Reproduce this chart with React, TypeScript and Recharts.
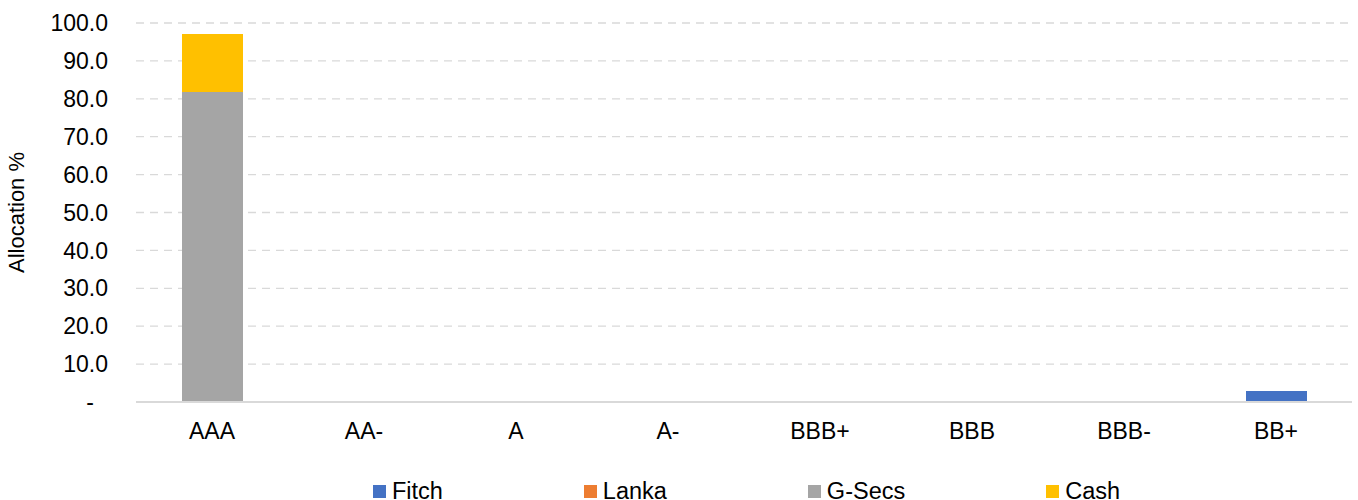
import React from "react";
import { BarChart, Bar, XAxis, YAxis, CartesianGrid, Legend } from "recharts";

const categories = ["AAA", "AA-", "A", "A-", "BBB+", "BBB", "BBB-", "BB+"];
const fitch = [0, 0, 0, 0, 0, 0, 0, 2.9];
const lanka = [0, 0, 0, 0, 0, 0, 0, 0];
const gSecs = [81.8, 0, 0, 0, 0, 0, 0, 0];
const cash = [15.3, 0, 0, 0, 0, 0, 0, 0];
const yTicks = [0, 10, 20, 30, 40, 50, 60, 70, 80, 90, 100];

const series = [
  { key: "fitch", name: "Fitch", color: "#4472C4" },
  { key: "lanka", name: "Lanka", color: "#ED7D31" },
  { key: "gSecs", name: "G-Secs", color: "#A5A5A5" },
  { key: "cash", name: "Cash", color: "#FFC000" },
];

const data = categories.map((c, i) => ({
  name: c,
  fitch: fitch[i],
  lanka: lanka[i],
  gSecs: gSecs[i],
  cash: cash[i],
}));

const FONT = "Liberation Sans, Arial, sans-serif";

function YTick(props: any) {
  const { x, y, payload } = props;
  const zero = payload.value === 0;
  return (
    <text
      x={zero ? x - 14 : x}
      y={y}
      dy="0.355em"
      textAnchor="end"
      fontSize={23}
      fontFamily={FONT}
      fill="#000"
    >
      {zero ? "-" : payload.value.toFixed(1)}
    </text>
  );
}

// legend kept in series order (recharts sorts the payload by name otherwise)
function LegendRow() {
  return (
    <div
      style={{
        display: "flex",
        justifyContent: "center",
        gap: 141,
        fontFamily: FONT,
        fontSize: 23.5,
        lineHeight: "23px",
        color: "#000",
        paddingLeft: 141,
      }}
    >
      {series.map((s) => (
        <div key={s.key} style={{ display: "flex", alignItems: "center" }}>
          <span
            style={{
              display: "inline-block",
              width: 13,
              height: 13,
              background: s.color,
              marginRight: 6,
            }}
          />
          <span>{s.name}</span>
        </div>
      ))}
    </div>
  );
}

export default function App() {
  return (
    <div style={{ position: "absolute", left: 0, top: 0, width: 1358, height: 500, background: "#fff", overflow: "hidden" }}>
      <BarChart
        width={1358}
        height={500}
        data={data}
        margin={{ top: 23, right: 6, left: 0, bottom: 0 }}
        barSize={61}
      >
        <CartesianGrid
          vertical={false}
          stroke="#d9d9d9"
          strokeDasharray="8 6"
          strokeWidth={1.3}
        />
        <XAxis
          dataKey="name"
          axisLine={{ stroke: "#d9d9d9", strokeWidth: 2 }}
          tickLine={false}
          tickSize={0}
          tickMargin={21}
          height={78}
          tick={{ fontSize: 23, fontFamily: FONT, fill: "#000" }}
          interval={0}
        />
        <YAxis
          width={136}
          domain={[0, 100]}
          ticks={yTicks}
          axisLine={false}
          tickLine={false}
          tickSize={0}
          tickMargin={28}
          tick={<YTick />}
          label={{
            value: "Allocation %",
            angle: -90,
            position: "insideLeft",
            offset: 16,
            style: { fontSize: 22, fontFamily: FONT, fill: "#000", textAnchor: "middle" },
          }}
        />
        <Legend verticalAlign="bottom" height={20} content={<LegendRow />} />
        {series.map((s) => (
          <Bar
            key={s.key}
            dataKey={s.key}
            name={s.name}
            stackId="a"
            fill={s.color}
            isAnimationActive={false}
          />
        ))}
      </BarChart>
    </div>
  );
}
